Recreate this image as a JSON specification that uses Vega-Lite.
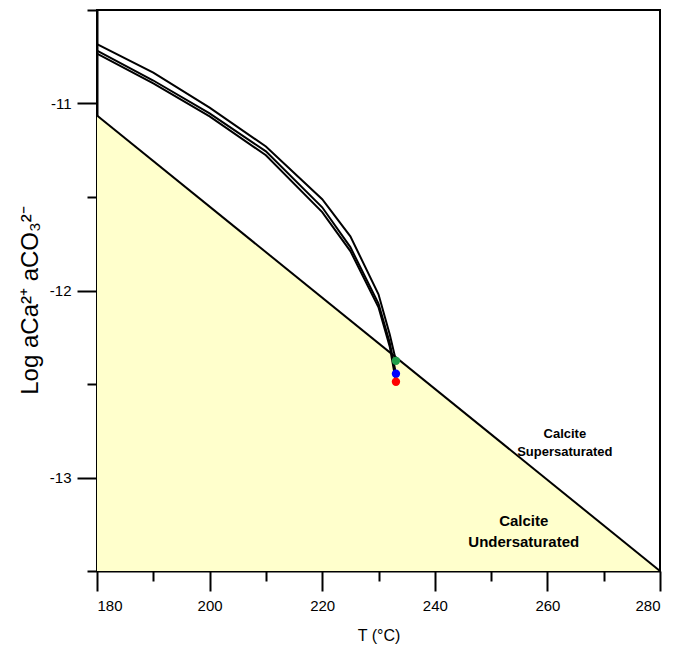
{
  "$schema": "https://vega.github.io/schema/vega-lite/v6.json",
  "width": 563,
  "height": 561,
  "autosize": {"type": "none"},
  "padding": {"left": 97, "top": 10, "right": 23, "bottom": 79},
  "background": "white",
  "config": {
    "view": {"stroke": "black", "strokeWidth": 2},
    "axis": {
      "domainColor": "black", "domainWidth": 2, "tickColor": "black", "tickWidth": 2,
      "labelColor": "black", "labelFont": "Liberation Sans", "labelFontSize": 15,
      "titleColor": "black", "titleFont": "Liberation Sans", "titleFontWeight": "normal",
      "grid": false
    }
  },
  "datasets": {
    "bound": [{"T": 180, "logK": -11.064}, {"T": 280, "logK": -13.5}],
    "curves": [
      {"series": "A", "T": 180, "logK": -10.682}, {"series": "A", "T": 190, "logK": -10.835}, {"series": "A", "T": 200, "logK": -11.022}, {"series": "A", "T": 210, "logK": -11.23}, {"series": "A", "T": 220, "logK": -11.512}, {"series": "A", "T": 225, "logK": -11.71}, {"series": "A", "T": 230, "logK": -12.02}, {"series": "A", "T": 232, "logK": -12.235}, {"series": "A", "T": 233.1, "logK": -12.376},
      {"series": "B", "T": 180, "logK": -10.717}, {"series": "B", "T": 190, "logK": -10.877}, {"series": "B", "T": 200, "logK": -11.053}, {"series": "B", "T": 210, "logK": -11.256}, {"series": "B", "T": 220, "logK": -11.555}, {"series": "B", "T": 225, "logK": -11.768}, {"series": "B", "T": 230, "logK": -12.07}, {"series": "B", "T": 232, "logK": -12.28}, {"series": "B", "T": 233.1, "logK": -12.445},
      {"series": "C", "T": 180, "logK": -10.733}, {"series": "C", "T": 190, "logK": -10.893}, {"series": "C", "T": 200, "logK": -11.069}, {"series": "C", "T": 210, "logK": -11.277}, {"series": "C", "T": 220, "logK": -11.581}, {"series": "C", "T": 225, "logK": -11.789}, {"series": "C", "T": 230, "logK": -12.09}, {"series": "C", "T": 232, "logK": -12.3}, {"series": "C", "T": 233.1, "logK": -12.488}
    ],
    "ends": [
      {"series": "A", "T": 233.1, "logK": -12.376},
      {"series": "B", "T": 233.1, "logK": -12.445},
      {"series": "C", "T": 233.1, "logK": -12.488}
    ],
    "labels": [
      {"kind": "super", "T": 263.1, "logK": -12.765, "label": "Calcite\nSupersaturated"},
      {"kind": "under", "T": 255.8, "logK": -13.235, "label": "Calcite\nUndersaturated"}
    ]
  },
  "resolve": {"axis": {"x": "independent", "y": "independent"}},
  "layer": [
    {
      "data": {"name": "bound"},
      "mark": {"type": "area", "color": "#FFFFCC", "opacity": 1},
      "encoding": {
        "x": {"field": "T", "type": "quantitative", "scale": {"domain": [180, 280], "nice": false, "zero": false},
          "axis": {"orient": "bottom", "values": [180, 200, 220, 240, 260, 280], "tickSize": 20, "labelPadding": 7, "title": "T (°C)", "titleFontSize": 16, "titlePadding": 14}},
        "y": {"field": "logK", "type": "quantitative", "scale": {"domain": [-13.5, -10.5], "nice": false, "zero": false},
          "axis": {"orient": "left", "values": [-13, -12, -11], "tickSize": 20, "labelPadding": 6, "labelExpr": "toString(datum.value)", "title": "Log aCa²⁺ aCO₃²⁻", "titleFontSize": 24, "titleX": -67, "titleY": 290, "titleAngle": -90, "titleAlign": "center", "titleBaseline": "middle"}},
        "y2": {"datum": -13.5}
      }
    },
    {
      "data": {"name": "bound"},
      "mark": {"type": "line", "color": "black", "strokeWidth": 2},
      "encoding": {
        "x": {"field": "T", "type": "quantitative", "axis": {"orient": "bottom", "values": [190, 210, 230, 250, 270], "tickSize": 10, "labels": false, "domain": false, "title": null}},
        "y": {"field": "logK", "type": "quantitative", "axis": {"orient": "left", "values": [-13.5, -12.5, -11.5, -10.5], "tickSize": 10, "labels": false, "domain": false, "title": null}}
      }
    },
    {
      "data": {"name": "curves"},
      "mark": {"type": "line", "color": "black", "strokeWidth": 2},
      "encoding": {
        "x": {"field": "T", "type": "quantitative", "axis": null},
        "y": {"field": "logK", "type": "quantitative", "axis": null},
        "detail": {"field": "series"}
      }
    },
    {
      "data": {"name": "ends"},
      "mark": {"type": "point", "filled": true, "opacity": 1},
      "encoding": {
        "x": {"field": "T", "type": "quantitative", "axis": null},
        "y": {"field": "logK", "type": "quantitative", "axis": null},
        "color": {"field": "series", "type": "nominal", "scale": {"domain": ["A", "B", "C"], "range": ["#1E9E48", "#0000FF", "#FF0000"]}, "legend": null},
        "size": {"field": "series", "type": "nominal", "scale": {"domain": ["A", "B", "C"], "range": [70, 70, 110]}, "legend": null}
      }
    },
    {
      "data": {"name": "labels"},
      "transform": [{"filter": "datum.kind === 'super'"}],
      "mark": {"type": "text", "font": "Liberation Sans", "fontWeight": "bold", "fontSize": 13, "lineHeight": 18, "align": "center", "baseline": "middle", "lineBreak": "\n", "color": "black"},
      "encoding": {
        "x": {"field": "T", "type": "quantitative", "axis": null},
        "y": {"field": "logK", "type": "quantitative", "axis": null},
        "text": {"field": "label"}
      }
    },
    {
      "data": {"name": "labels"},
      "transform": [{"filter": "datum.kind === 'under'"}],
      "mark": {"type": "text", "font": "Liberation Sans", "fontWeight": "bold", "fontSize": 15, "lineHeight": 21, "align": "center", "baseline": "middle", "lineBreak": "\n", "color": "black"},
      "encoding": {
        "x": {"field": "T", "type": "quantitative", "axis": null},
        "y": {"field": "logK", "type": "quantitative", "axis": null},
        "text": {"field": "label"}
      }
    }
  ]
}
